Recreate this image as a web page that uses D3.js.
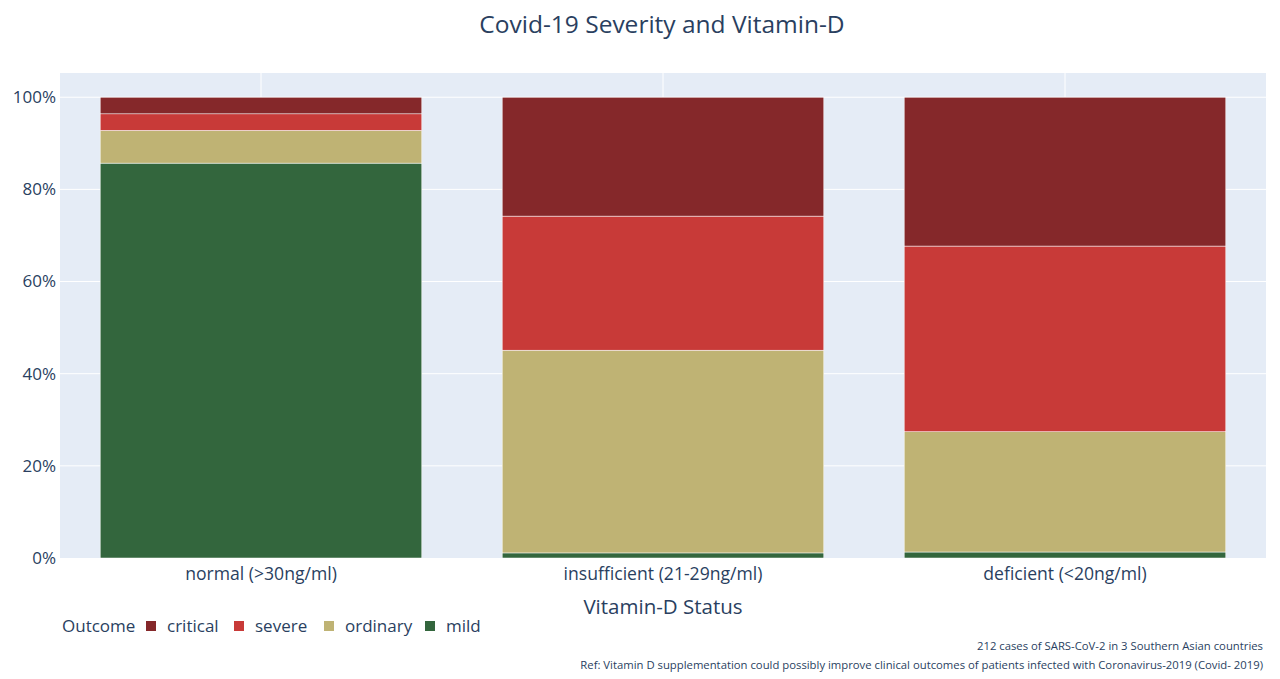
<!DOCTYPE html>
<html>
<head>
<meta charset="utf-8">
<script src="https://cdn.jsdelivr.net/npm/d3@7"></script>
<style>
  html, body { margin: 0; padding: 0; background: #fff; }
  svg { display: block; font-family: "Open Sans", "Noto Sans", sans-serif; }
</style>
</head>
<body>
<svg id="chart" width="1280" height="679"></svg>
<script>
const categories = ["normal (>30ng/ml)", "insufficient (21-29ng/ml)", "deficient (<20ng/ml)"];
const outcomes = ["mild", "ordinary", "severe", "critical"];
const mild = [85.7, 1.1, 1.3];
const ordinary = [7.1, 44.0, 26.1];
const severe = [3.6, 29.1, 40.3];
const critical = [3.6, 25.8, 32.3];
const yTicks = [0, 20, 40, 60, 80, 100];
const legendOrder = ["critical", "severe", "ordinary", "mild"];
const colors = { critical: "#85282a", severe: "#c83a38", ordinary: "#bfb374", mild: "#33663d" };
const title = "Covid-19 Severity and Vitamin-D";
const xTitle = "Vitamin-D Status";
const notes = ["212 cases of SARS-CoV-2 in 3 Southern Asian countries",
  "Ref: Vitamin D supplementation could possibly improve clinical outcomes of patients infected with Coronavirus-2019 (Covid- 2019)"];

const seriesValues = { mild, ordinary, severe, critical };
const rows = categories.map((c, i) => {
  const r = { cat: c };
  outcomes.forEach(o => r[o] = seriesValues[o][i]);
  return r;
});
const stacked = d3.stack().keys(outcomes)(rows);

const svg = d3.select("#chart");
const W = 1280, H = 679;
const m = { left: 60, right: 14, top: 73, bottom: 121 };
const pw = W - m.left - m.right, ph = H - m.top - m.bottom;
const textColor = "#2a3f5f";

const x = d3.scaleBand().domain(categories).range([m.left, m.left + pw]).paddingInner(0.2).paddingOuter(0.1);
const y = d3.scaleLinear().domain([0, 105.26]).range([m.top + ph, m.top]);

svg.append("rect").attr("x", m.left).attr("y", m.top).attr("width", pw).attr("height", ph).attr("fill", "#e5ecf6");

// gridlines
svg.append("g").selectAll("line").data(yTicks.slice(1)).join("line")
  .attr("x1", m.left).attr("x2", m.left + pw)
  .attr("y1", d => y(d)).attr("y2", d => y(d))
  .attr("stroke", "#fff").attr("stroke-width", 1);
svg.append("g").selectAll("line").data(categories).join("line")
  .attr("x1", d => x(d) + x.bandwidth() / 2).attr("x2", d => x(d) + x.bandwidth() / 2)
  .attr("y1", m.top).attr("y2", m.top + ph)
  .attr("stroke", "#fff").attr("stroke-width", 1);

// bars
svg.append("g").selectAll("g").data(stacked).join("g")
  .attr("fill", d => colors[d.key])
  .selectAll("rect").data(d => d).join("rect")
  .attr("x", d => x(d.data.cat))
  .attr("width", x.bandwidth())
  .attr("y", d => y(d[1]))
  .attr("height", d => y(d[0]) - y(d[1]))
  .attr("stroke", "#fff").attr("stroke-width", 0.5);

// y axis
const yAxis = d3.axisLeft(y).tickValues(yTicks).tickFormat(d => d + "%").tickSize(0).tickPadding(4);
const gy = svg.append("g").attr("transform", `translate(${m.left},0)`).call(yAxis);
gy.select(".domain").remove();
gy.selectAll("text").attr("fill", textColor).style("font-size", "17px").style("font-family", '"Open Sans", sans-serif');

// x axis
const xAxis = d3.axisBottom(x).tickSize(0).tickPadding(10);
const gx = svg.append("g").attr("transform", `translate(0,${m.top + ph})`).call(xAxis);
gx.select(".domain").remove();
gx.selectAll("text").attr("fill", textColor).style("font-size", "17.6px").style("font-family", '"Open Sans", sans-serif');

// title
svg.append("text").attr("x", 662).attr("y", 33).attr("text-anchor", "middle")
  .attr("fill", textColor).style("font-size", "24.5px").text(title);

// x axis title
svg.append("text").attr("x", m.left + pw / 2).attr("y", 614).attr("text-anchor", "middle")
  .attr("fill", textColor).style("font-size", "20.5px").text(xTitle);

// legend
const lg = svg.append("g").attr("transform", "translate(62,632)");
lg.append("text").attr("x", 0).attr("y", 0).attr("fill", textColor).style("font-size", "17px").text("Outcome");
const legendX = [84, 172, 262, 363];
legendOrder.forEach((k, i) => {
  lg.append("rect").attr("x", legendX[i]).attr("y", -11).attr("width", 10).attr("height", 10).attr("fill", colors[k]);
  lg.append("text").attr("x", legendX[i] + 21).attr("y", 0).attr("fill", textColor).style("font-size", "17px").text(k);
});

// notes
notes.forEach((t, i) => {
  svg.append("text").attr("x", 1263).attr("y", 650 + i * 19).attr("text-anchor", "end")
    .attr("fill", textColor).style("font-size", "11.3px").text(t);
});
</script>
</body>
</html>
